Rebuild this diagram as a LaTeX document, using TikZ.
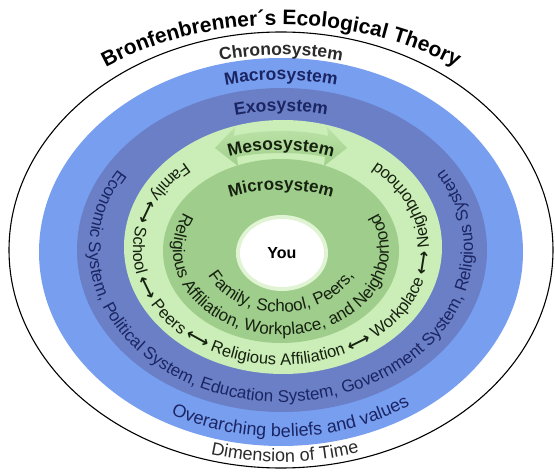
\documentclass[tikz,border=0pt]{standalone}
\usepackage{fontspec}
\setmainfont{Liberation Sans}
\newfontfamily\arrowfont{DejaVu Sans}
\usetikzlibrary{decorations.text}
\definecolor{macroblue}{HTML}{789EF0}
\definecolor{exoblue}{HTML}{6A7FC6}
\definecolor{mesogreen}{HTML}{CBEDB8}
\definecolor{microgreen}{HTML}{9FCD8C}
\definecolor{arrowgreen}{HTML}{A0CF8A}
\definecolor{arrowlight}{HTML}{BCE2A8}
\definecolor{navytext}{HTML}{1B2563}
\definecolor{greentext}{HTML}{16210F}
\definecolor{graytext}{HTML}{2B2B2B}
\newcommand{\fsz}[1]{\fontsize{#1}{#1}\selectfont}
\newcommand{\dar}{{\arrowfont\bfseries ⟷}}
% #1 start angle, #2 end angle, #3 x radius, #4 y radius, #5 format, #6 text
\newcommand{\arctext}[6]{\path[decorate,decoration={text along path,text align=center,text={|#5|#6}}] ([shift={(#1:#3 and #4)}]c) arc[start angle=#1,end angle=#2,x radius=#3,y radius=#4];}
\tikzset{
  ringfill/.style={draw=none},
}
\begin{document}
\begin{tikzpicture}[x=1pt,y=1pt]
\useasboundingbox (0,0) rectangle (555,475);
\fill[white] (0,0) rectangle (555,475);
\coordinate (c) at (281,225);
% rings
\path[fill=white,draw=black,line width=1.1pt] (281,225) ellipse [x radius=272,y radius=218];
\path[ringfill,fill=macroblue] (281,223) ellipse [x radius=242,y radius=194];
\path[ringfill,fill=exoblue] (282,225) ellipse [x radius=205,y radius=162];
\path[ringfill,fill=mesogreen] (283,228) ellipse [x radius=159,y radius=127];
% mesosystem double arrow
\path[top color=arrowlight,bottom color=arrowgreen]
  (215,327) -- (235,348) -- (234,339) .. controls (259,345.7) and (303,345.7) .. (328,339)
  -- (327,348) -- (347,327) -- (324,309) -- (325,318)
  .. controls (303,323.3) and (259,323.3) .. (237,318) -- (238,309) -- cycle;
\path[ringfill,fill=microgreen] (281,224) ellipse [x radius=118,y radius=92];
\path[ringfill,fill=mesogreen!60!white] (282,222) ellipse [x radius=46,y radius=38];
\path[ringfill,fill=white] (282,222) ellipse [x radius=42,y radius=34];
% top labels
\arctext{135}{45}{300}{225}{\color{black}\bfseries\fsz{21}}{Bronfenbrenner´s Ecological Theory}
\arctext{120}{60}{250}{195}{\color{graytext}\bfseries\fsz{17.5}}{Chronosystem}
\arctext{120}{60}{222}{170}{\color{navytext}\bfseries\fsz{17.5}}{Macrosystem}
\arctext{125}{55}{185}{139}{\color{navytext}\bfseries\fsz{17.5}}{Exosystem}
\arctext{130}{50}{140}{100}{\color{greentext}\bfseries\fsz{17.5}}{Mesosystem}
\arctext{140}{40}{105}{60}{\color{greentext}\bfseries\fsz{17}}{Microsystem}
\node[font=\bfseries\fsz{16},text=black] (you) at (282,222) {You};
% ring texts
\arctext{180}{360}{80}{62}{\color{greentext}\fsz{17}}{Family, School, Peers,}
\arctext{140}{400}{108}{85}{\color{greentext}\fsz{17}}{Religious Affiliation, Workplace, and Neighborhood}
\arctext{120}{420}{148}{115}{\color{greentext}\fsz{16.5}}{Family \dar{} School \dar{} Peers \dar{} Religious Affiliation \dar{} Workplace \dar{} Neighborhood}
\arctext{140}{400}{192}{152}{\color{navytext}\fsz{17}}{Economic System, Political System, Education System, Government System, Religious System}
\arctext{213}{333}{232}{187}{\color{navytext}\fsz{18}}{Overarching beliefs and values}
\arctext{221}{321}{264}{212}{\color{graytext}\fsz{18}}{Dimension of Time}
\end{tikzpicture}
\end{document}
